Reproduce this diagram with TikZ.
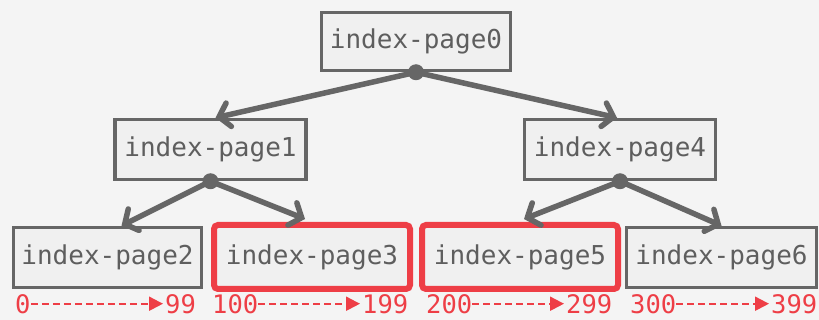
\documentclass[tikz,border=0pt]{standalone}
\usepackage{fontspec}
\setmonofont{DejaVu Sans Mono}
\usetikzlibrary{arrows.meta}
\definecolor{bg}{HTML}{F4F4F4}
\definecolor{boxfill}{HTML}{F0F0F0}
\definecolor{gr}{HTML}{666666}
\definecolor{txt}{HTML}{5E5E5E}
\definecolor{rd}{HTML}{EE3E46}
\tikzset{
  pagebox/.style={draw=gr, line width=3.5pt, fill=boxfill, inner sep=0pt,
    minimum width=190pt, minimum height=60pt, text=txt,
    font=\ttfamily\fontsize{26}{26}\selectfont},
  hotbox/.style={pagebox, draw=rd, line width=6pt, rounded corners=4pt,
    minimum width=196pt, minimum height=64pt},
  treearr/.style={draw=gr, line width=5.5pt, line cap=round,
    -{Straight Barb[length=10pt,width=24pt,line cap=round]}},
  joint/.style={circle, fill=gr, inner sep=0pt, minimum size=16pt},
  rangelbl/.style={text=rd, inner sep=0pt, anchor=base west,
    font=\ttfamily\fontsize{25.5}{25.5}\selectfont},
  rangearr/.style={draw=rd, line width=2pt, dash pattern=on 7pt off 4pt,
    -{Triangle[length=14pt,width=14pt]}, shorten >=2pt}
}
\begin{document}
\begin{tikzpicture}[x=1pt,y=-1pt]
\fill[bg] (0,0) rectangle (819,320);
\useasboundingbox (0,0) rectangle (819,320);

\node[pagebox, minimum width=189pt, minimum height=58pt] (p0) at (416,41.5) {index-page0};
\node[pagebox, minimum width=191pt] (p1) at (210.5,149.5) {index-page1};
\node[pagebox, minimum width=191pt] (p4) at (620,149.5) {index-page4};
\node[pagebox, minimum width=188pt] (p2) at (107.5,257.5) {index-page2};
\node[hotbox] (p3) at (312,257) {index-page3};
\node[hotbox] (p5) at (520,257) {index-page5};
\node[pagebox] (p6) at (721.5,257.5) {index-page6};

\draw[treearr] (p0.south) -- ([xshift=5pt]p1.north);
\draw[treearr] (p0.south) -- ([xshift=-3pt]p4.north);
\draw[treearr] (p1.south) -- ([xshift=14pt]p2.north);
\draw[treearr] (p1.south) -- ([xshift=-7pt,yshift=3pt]p3.north);
\draw[treearr] (p4.south) -- ([xshift=4pt,yshift=3pt]p5.north);
\draw[treearr] (p4.south) -- ([xshift=0pt]p6.north);

\node[joint] (j0) at (p0.south) {};
\node[joint] (j1) at (p1.south) {};
\node[joint] (j4) at (p4.south) {};

\node[rangelbl] (a0) at (15,313) {0};
\node[rangelbl] (b0) at (165,313) {99};
\node[rangelbl] (a1) at (212,313) {100};
\node[rangelbl] (b1) at (362,313) {199};
\node[rangelbl] (a2) at (426,313) {200};
\node[rangelbl] (b2) at (566,313) {299};
\node[rangelbl] (a3) at (630,313) {300};
\node[rangelbl] (b3) at (771,313) {399};

\draw[rangearr] (a0.east) -- (b0.west);
\draw[rangearr] (a1.east) -- (b1.west);
\draw[rangearr] (a2.east) -- (b2.west);
\draw[rangearr] (a3.east) -- (b3.west);
\end{tikzpicture}
\end{document}
